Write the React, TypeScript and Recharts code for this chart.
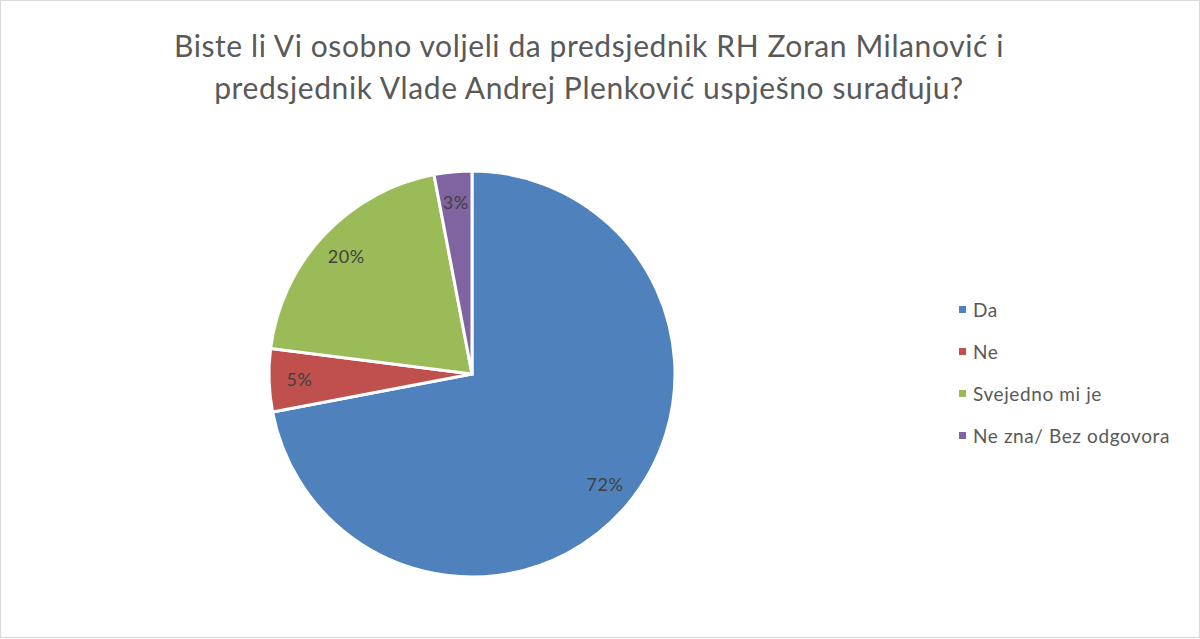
import { Cell, Legend, Pie, PieChart } from "recharts";

const CATEGORIES = ["Da", "Ne", "Svejedno mi je", "Ne zna/ Bez odgovora"];
const SHARES = [72, 5, 20, 3];
const COLORS = ["#4F81BD", "#C0504D", "#9BBB59", "#8064A2"];
const TITLE_LINES = [
  "Biste li Vi osobno voljeli da predsjednik RH Zoran Milanović i",
  "predsjednik Vlade Andrej Plenković uspješno surađuju?",
];

const chartData = CATEGORIES.map((name, i) => ({ name, value: SHARES[i] }));

const RAD = Math.PI / 180;
const FONT = "Lato, 'Open Sans', sans-serif";

const renderLabel = (props: any) => {
  const { cx, cy, midAngle, outerRadius, value } = props;
  const r = outerRadius * 0.85;
  const x = cx + r * Math.cos(-midAngle * RAD);
  const y = cy + r * Math.sin(-midAngle * RAD);
  return (
    <text
      x={x}
      y={y}
      fill="#404040"
      fontSize={18}
      letterSpacing={0.6}
      fontFamily={FONT}
      textAnchor="middle"
      dominantBaseline="central"
    >
      {value}%
    </text>
  );
};

const LegendList = () => (
  <div
    style={{
      fontFamily: FONT,
      fontSize: 19,
      letterSpacing: 0.6,
      color: "#595959",
    }}
  >
    {CATEGORIES.map((name, i) => (
      <div
        key={name}
        style={{ display: "flex", alignItems: "center", height: 42 }}
      >
        <span
          style={{
            width: 7,
            height: 7,
            background: COLORS[i],
            marginRight: 7,
            display: "inline-block",
          }}
        />
        {name}
      </div>
    ))}
  </div>
);

export default function App() {
  return (
    <div
      style={{
        position: "absolute",
        left: 0,
        top: 0,
        width: 1198,
        height: 636,
        border: "1px solid #D9D9D9",
        background: "#fff",
      }}
    >
      <div
        style={{
          position: "absolute",
          left: 0,
          top: 23,
          width: 1176,
          textAlign: "center",
          fontFamily: FONT,
          fontSize: 30,
          letterSpacing: 0.6,
          lineHeight: "42px",
          color: "#595959",
        }}
      >
        {TITLE_LINES.map((line) => (
          <div key={line}>{line}</div>
        ))}
      </div>
      <PieChart width={1198} height={636}>
        <Pie
          data={chartData}
          dataKey="value"
          nameKey="name"
          cx={466}
          cy={368}
          outerRadius={203}
          startAngle={90}
          endAngle={-270}
          stroke="#FFFFFF"
          strokeWidth={3}
          label={renderLabel}
          labelLine={false}
          isAnimationActive={false}
        >
          {chartData.map((entry, i) => (
            <Cell key={entry.name} fill={COLORS[i]} />
          ))}
        </Pie>
        <Legend
          layout="vertical"
          content={() => <LegendList />}
          wrapperStyle={{ position: "absolute", left: 958, top: 287, width: 236 }}
        />
      </PieChart>
    </div>
  );
}
